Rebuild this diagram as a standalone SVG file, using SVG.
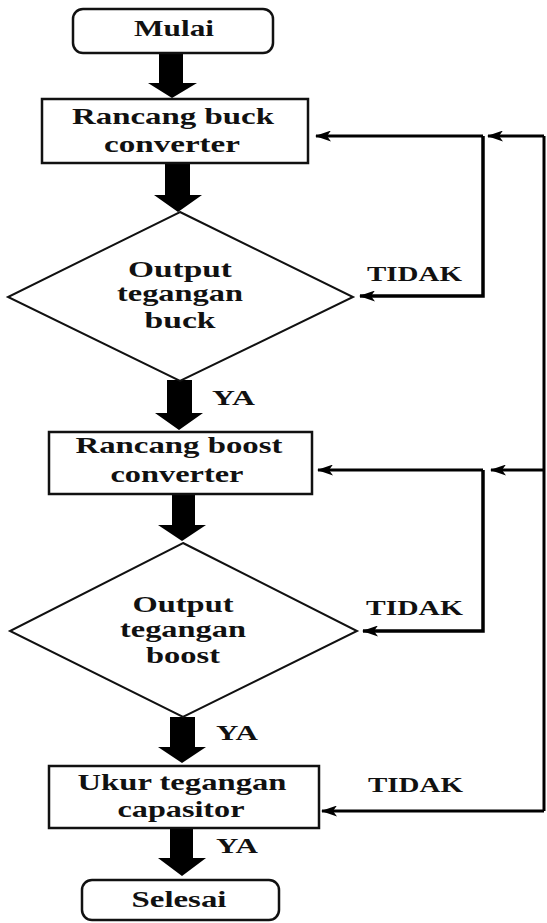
<svg xmlns="http://www.w3.org/2000/svg" width="547" height="923" viewBox="0 0 547 923">
<style>
.box{fill:#fff;stroke:#111;stroke-width:2.5}
.dia{fill:#fff;stroke:#111;stroke-width:2}
.t{font-family:"Liberation Serif","Times New Roman",serif;font-weight:bold;font-size:23px;fill:#111;text-anchor:middle}
.lb{font-family:"Liberation Serif","Times New Roman",serif;font-weight:bold;font-size:21px;fill:#111;text-anchor:start}
.ln{fill:none;stroke:#000;stroke-width:3}
.big{fill:#000}
</style>
<defs>
<marker id="ah" markerWidth="16" markerHeight="11" refX="15" refY="5.5" orient="auto" markerUnits="userSpaceOnUse">
<path d="M0,0 L16,5.5 L0,11 L4,5.5 Z" fill="#000"/>
</marker>
</defs>
<rect width="547" height="923" fill="#fff"/>

<g id="connectors">
<polygon class="big" points="159,53 183,53 183,83 197,83 172,98 148,83 159,83"/>
<polygon class="big" points="165,163 190,163 190,195 202,195 178,212 154,195 165,195"/>
<polygon class="big" points="167,380 192,380 192,413 203,413 179,430 155,413 167,413"/>
<polygon class="big" points="172,494 195,494 195,525 206,525 182,541 158,525 172,525"/>
<polygon class="big" points="170,717 195,717 195,747 206,747 182,763 158,747 170,747"/>
<polygon class="big" points="170,828 193,828 193,858 206,858 182,876 158,858 170,858"/>

<path class="ln" d="M544,136 V811"/>
<path class="ln" d="M544,136 H488" marker-end="url(#ah)"/>
<path class="ln" d="M483,136 H316" marker-end="url(#ah)"/>
<path class="ln" d="M483,136 V296 H360" marker-end="url(#ah)" style="stroke-width:3.5"/>
<path class="ln" d="M544,470 H491" marker-end="url(#ah)"/>
<path class="ln" d="M483,470 H318" marker-end="url(#ah)"/>
<path class="ln" d="M483,470 V631 H363" marker-end="url(#ah)" style="stroke-width:3.5"/>
<path class="ln" d="M544,811 H322" marker-end="url(#ah)"/>

<text class="lb" x="367" y="281" textLength="95" lengthAdjust="spacingAndGlyphs">TIDAK</text>
<text class="lb" x="366" y="615" textLength="97" lengthAdjust="spacingAndGlyphs">TIDAK</text>
<text class="lb" x="368" y="792" textLength="95" lengthAdjust="spacingAndGlyphs">TIDAK</text>
<text class="lb" x="212" y="405" textLength="43" lengthAdjust="spacingAndGlyphs">YA</text>
<text class="lb" x="216" y="740" textLength="42" lengthAdjust="spacingAndGlyphs">YA</text>
<text class="lb" x="216" y="853" textLength="42" lengthAdjust="spacingAndGlyphs">YA</text>
</g>

<g id="mulai">
<rect class="box" x="73" y="9" width="200" height="44" rx="10"/>
<text class="t" x="174" y="36" textLength="80" lengthAdjust="spacingAndGlyphs">Mulai</text>
</g>

<g id="rancang-buck">
<rect class="box" x="42" y="99" width="266" height="64"/>
<text class="t" x="173" y="124" textLength="202" lengthAdjust="spacingAndGlyphs">Rancang buck</text>
<text class="t" x="172" y="152" textLength="136" lengthAdjust="spacingAndGlyphs">converter</text>
</g>

<g id="output-buck">
<polygon class="dia" points="180,212 353,297 180,381 8,297"/>
<text class="t" x="180" y="277" textLength="104" lengthAdjust="spacingAndGlyphs">Output</text>
<text class="t" x="180" y="301" textLength="126" lengthAdjust="spacingAndGlyphs">tegangan</text>
<text class="t" x="180" y="328" textLength="71" lengthAdjust="spacingAndGlyphs">buck</text>
</g>

<g id="rancang-boost">
<rect class="box" x="49" y="432" width="263" height="62"/>
<text class="t" x="179" y="453" textLength="207" lengthAdjust="spacingAndGlyphs">Rancang boost</text>
<text class="t" x="177" y="482" textLength="133" lengthAdjust="spacingAndGlyphs">converter</text>
</g>

<g id="output-boost">
<polygon class="dia" points="183,543 357,631 183,717 10,631"/>
<text class="t" x="183" y="612" textLength="101" lengthAdjust="spacingAndGlyphs">Output</text>
<text class="t" x="183" y="637" textLength="126" lengthAdjust="spacingAndGlyphs">tegangan</text>
<text class="t" x="183" y="663" textLength="74" lengthAdjust="spacingAndGlyphs">boost</text>
</g>

<g id="ukur">
<rect class="box" x="49" y="766" width="270" height="62"/>
<text class="t" x="182" y="790" textLength="209" lengthAdjust="spacingAndGlyphs">Ukur tegangan</text>
<text class="t" x="181" y="817" textLength="127" lengthAdjust="spacingAndGlyphs">capasitor</text>
</g>

<g id="selesai">
<rect class="box" x="82" y="880" width="197" height="40" rx="10"/>
<text class="t" x="179" y="907" textLength="95" lengthAdjust="spacingAndGlyphs">Selesai</text>
</g>
</svg>
